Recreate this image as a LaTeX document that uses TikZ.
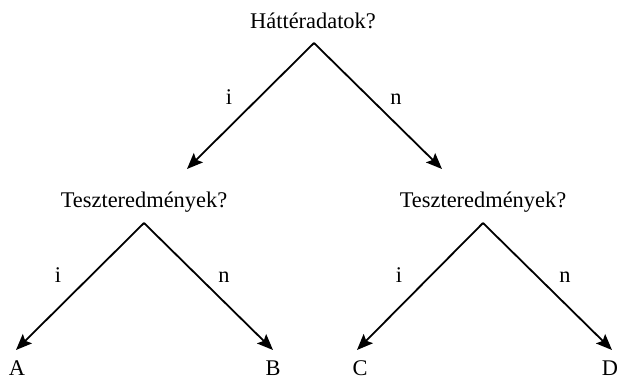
\documentclass[tikz,border=0pt]{standalone}
\usepackage{fontspec}
\setmainfont{Liberation Serif}
\usetikzlibrary{arrows.meta}
\begin{document}
\begin{tikzpicture}[x=0.5pt,y=-0.5pt,
  lbl/.style={anchor=base,inner sep=0pt,font=\fontsize{11.2}{13}\selectfont},
  branch/.style={line width=0.9pt,-{Stealth[length=8pt,width=6.5pt,inset=1.5pt]}}]
\useasboundingbox (0,0) rectangle (618,379);

% question nodes
\node[lbl] (q0) at (313,29) {Háttéradatok?};
\node[lbl] (q1) at (144,208) {Teszteredmények?};
\node[lbl] (q2) at (483,208) {Teszteredmények?};

% leaves
\node[lbl] (a) at (17,376) {A};
\node[lbl] (b) at (273,376) {B};
\node[lbl] (c) at (360,376) {C};
\node[lbl] (d) at (610,376) {D};

% branch points and arrow ends
\coordinate (p0) at (314,43);
\coordinate (p1) at (144,223);
\coordinate (p2) at (483,223);
\coordinate (e01) at (187,169);
\coordinate (e02) at (442,169);
\coordinate (ea) at (16,350);
\coordinate (eb) at (273,350);
\coordinate (ec) at (357,350);
\coordinate (ed) at (612,350);

\draw[branch] (p0) -- (e01);
\draw[branch] (p0) -- (e02);
\draw[branch] (p1) -- (ea);
\draw[branch] (p1) -- (eb);
\draw[branch] (p2) -- (ec);
\draw[branch] (p2) -- (ed);

% branch labels
\node[lbl] (i0) at (229,105) {i};
\node[lbl] (n0) at (396,105) {n};
\node[lbl] (i1) at (58,283) {i};
\node[lbl] (n1) at (224,283) {n};
\node[lbl] (i2) at (399,283) {i};
\node[lbl] (n2) at (565,283) {n};
\end{tikzpicture}
\end{document}
